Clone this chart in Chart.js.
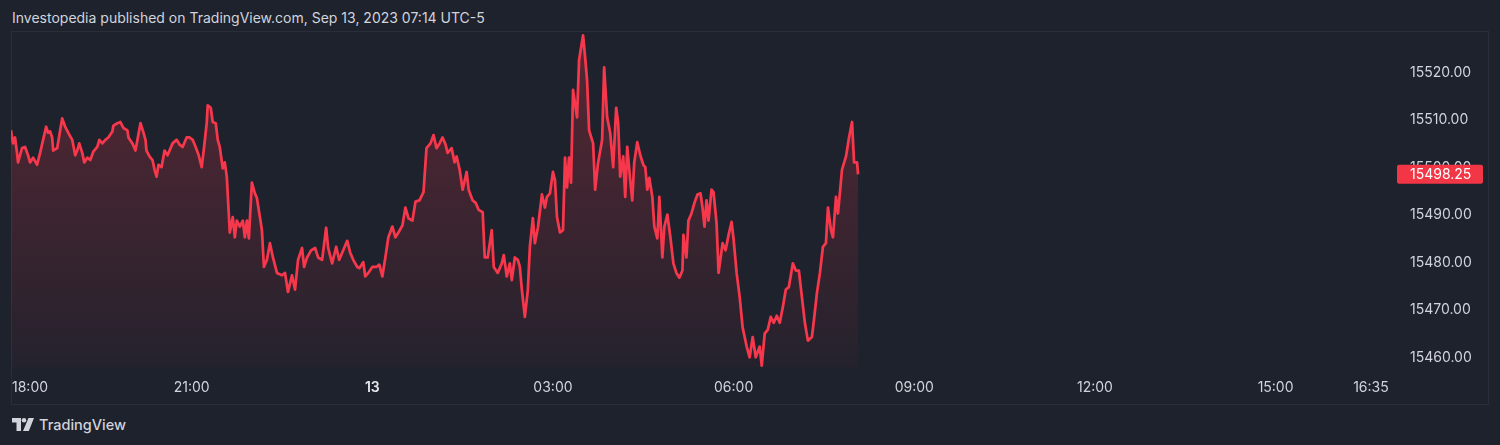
<!DOCTYPE html>
<html>
<head>
<meta charset="utf-8">
<script src="https://cdn.jsdelivr.net/npm/chart.js@4.4.0/dist/chart.umd.min.js"></script>
<style>
  html, body { margin:0; padding:0; background:#1e222d; width:1500px; height:445px; overflow:hidden; font-family: Inter, "Noto Sans", sans-serif; }
  #title { position:absolute; left:12px; top:9px; font-size:14px; line-height:18px; color:#d1d4dc; white-space:nowrap; }
  #frame { position:absolute; left:11px; top:31px; width:1478px; height:374px; box-sizing:border-box; border:1px solid #2a2e39; pointer-events:none; }
  #wrap { position:absolute; left:11px; top:31px; width:1477px; height:373px; }
  #brand { position:absolute; left:12px; top:415px; height:18px; display:flex; align-items:center; color:#d1d4dc; font-size:14.5px; font-weight:500; }
  #brand svg { margin-right:5px; }
</style>
</head>
<body>
<div id="title">Investopedia published on TradingView.com, Sep 13, 2023 07:14 UTC-5</div>
<div id="frame"></div>
<div id="wrap"><canvas id="c"></canvas></div>
<div id="brand">
  <svg width="22" height="13" viewBox="0 0 22 13"><path d="M0 0h9v13H4.5V4.5H0z" fill="#d1d4dc"/><circle cx="12" cy="2.3" r="2.3" fill="#d1d4dc"/><path d="M16.5 0H22l-5.2 13H11z" fill="#d1d4dc"/></svg>
  <span>TradingView</span>
</div>
<script>
// minutes since 18:00 (Sep 12)
const times = [
0,2,4,6,7,11,14,17,19,22,
26,29,32,35,37,39,41,42,46,49,
51,54,57,61,64,66,68,71,73,76,
79,82,86,88,91,94,97,101,102,106,
109,112,116,117,121,124,126,129,132,134,
135,138,141,143,145,147,150,153,156,161,
165,168,171,175,178,181,184,187,190,192,
195,196,199,201,204,206,208,211,213,215,
218,221,223,225,228,231,233,235,237,240,
243,245,248,250,252,255,258,261,265,270,
273,276,280,283,286,290,292,295,299,303,
306,310,314,316,320,324,327,331,335,338,
341,345,347,351,353,356,360,364,367,370,
373,376,380,383,386,390,393,396,400,403,
407,411,414,418,421,424,427,430,433,435,
439,442,444,447,450,454,456,460,463,466,
470,472,475,479,481,485,489,491,494,497,
499,502,505,507,509,512,515,517,520,522,
525,529,532,534,537,540,542,544,547,550,
552,554,556,558,560,564,566,570,572,574,
576,580,582,585,589,591,594,597,600,603,
605,607,610,612,614,617,619,621,624,627,
630,632,634,636,639,641,644,646,649,651,
654,657,660,663,666,669,670,673,675,678,
681,684,687,689,691,693,695,698,700,703,
705,709,712,715,718,720,723,726,729,733,
736,739,742,746,748,751,754,757,760,763,
766,769,772,775,779,782,785,788,791,794,
798,800,803,806,809,812,814,817,819,822,
824,828,832,835,838,840,843,844
];
const prices = [
15507.5,15504.75,15506,15502.75,15500.75,15503.75,15504,15502.25,15500.75,15501.75,
15500.25,15502.75,15505.5,15508.25,15507,15507.25,15506,15503.25,15503.75,15507.5,
15510,15508.25,15507,15505.5,15502.25,15503.25,15504.75,15502.75,15500.75,15501.75,
15501.25,15503,15504,15505.5,15504.75,15505.5,15506,15507.25,15508.5,15509,
15509.25,15508,15507.5,15506,15504.75,15503.25,15505.5,15509,15507,15505.5,
15503.25,15502,15501.25,15499.25,15497.75,15500.25,15499.75,15503.25,15502.25,15504.75,
15505.5,15504.5,15504,15506,15506,15505.5,15504,15502.25,15499.75,15503.25,
15509,15512.75,15512.25,15509.25,15509,15505.5,15504,15499.5,15500.75,15497.75,
15486,15489.25,15485,15488.5,15487.25,15488.5,15485,15488.5,15484.75,15496.5,
15494.25,15493.25,15489.25,15486.5,15478.75,15480.25,15483.75,15480.75,15477.5,15477,
15477.5,15473.5,15477,15474,15480.25,15482.75,15478.75,15480.75,15482.25,15482.75,
15480.75,15480.25,15487,15482.75,15479.5,15483,15480.25,15482.25,15484.25,15481.75,
15480.25,15478.75,15478.5,15479.75,15476.75,15477.5,15478.75,15478.75,15479.25,15476.75,
15480.75,15485,15487.25,15485,15486,15487.5,15491.25,15489,15488.5,15492.5,
15492.75,15494.5,15503.75,15504.75,15506.5,15503.75,15504.75,15506,15504.5,15502.75,
15503.75,15500.75,15502,15499.25,15495,15498.75,15495,15492.75,15492.25,15490.75,
15490.25,15480.75,15480.75,15486.5,15478.75,15477.5,15479.5,15481.25,15476.75,15479.5,
15476,15480.75,15480.25,15478.75,15474,15468.25,15474,15483,15489,15483.75,
15487,15494,15491.25,15493.5,15494.25,15498.75,15497,15489.25,15486,15486.5,
15501.75,15495.5,15501.75,15496.5,15516,15510.25,15522.25,15527.5,15523,15518,
15507.5,15504.75,15495,15500.75,15505.5,15520.75,15510.25,15507,15499.75,15512.25,
15509,15497.75,15502,15493.5,15504,15497,15492.75,15500.75,15505,15502.25,
15500.25,15499.75,15495,15497.5,15493.5,15487.25,15484.75,15493.5,15480.75,15487.25,
15489.75,15485,15479.5,15477.5,15476.5,15478,15485.5,15480.75,15488.5,15490,
15492.25,15494,15494.25,15491.25,15487.25,15492.75,15488.5,15495,15494.5,15488,
15477.5,15483.75,15482.25,15485.5,15488.25,15484.5,15477.5,15472.5,15466,15462,
15459.75,15464,15459.75,15462,15458,15464.75,15465.5,15468.25,15467,15468.5,
15467,15470.25,15474,15474.5,15479.5,15478,15478,15472.5,15467,15463.25,
15464,15467.5,15473.25,15477.5,15483,15483.75,15491.25,15486.5,15485,15493.5,
15490,15499.25,15502,15506,15509.25,15500.75,15500.75,15498.25
];
const xTickMinutes = [0, 180, 360, 540, 720, 900, 1080, 1260, 1355];
const xTickLabels = ['18:00', '21:00', '13', '03:00', '06:00', '09:00', '12:00', '15:00', '16:35'];
const priceTicks = [15460, 15470, 15480, 15490, 15500, 15510, 15520];
const lastPriceLabel = '15498.25';

const points = times.map((t, i) => ({ x: t, y: prices[i] }));

const tvPlugin = {
  id: 'tvLabels',
  afterDraw(chart) {
    const { ctx, scales: { x, y }, chartArea } = chart;
    ctx.save();
    ctx.textBaseline = 'middle';
    ctx.textAlign = 'left';
    const ty = chartArea.bottom + 21;
    xTickMinutes.forEach((m, i) => {
      const lbl = xTickLabels[i];
      const bold = lbl === '13';
      ctx.font = (bold ? '600 ' : '400 ') + '14px Inter';
      ctx.fillStyle = bold ? '#e6e8ee' : '#d1d4dc';
      const w = ctx.measureText(lbl).width;
      let left = x.getPixelForValue(m) - w / 2;
      if (left < chartArea.left + 1) left = chartArea.left + 1;
      ctx.fillText(lbl, left, ty);
    });
    // last price tag
    const py = y.getPixelForValue(prices[prices.length - 1]);
    const bx = chartArea.right + 5, bw = 86, bh = 19;
    ctx.fillStyle = '#f23645';
    ctx.beginPath();
    if (ctx.roundRect) ctx.roundRect(bx, py - bh / 2, bw, bh, 2); else ctx.rect(bx, py - bh / 2, bw, bh);
    ctx.fill();
    ctx.fillStyle = '#ffffff';
    ctx.font = '400 14px Inter';
    ctx.fillText(lastPriceLabel, chartArea.right + 18, py + 1);
    ctx.restore();
  }
};

new Chart(document.getElementById('c'), {
  type: 'line',
  data: {
    datasets: [{
      data: points,
      borderColor: '#f7374b',
      borderWidth: 2.75,
      borderJoinStyle: 'round',
      pointRadius: 0,
      tension: 0,
      fill: 'start',
      backgroundColor(ctx) {
        const ca = ctx.chart.chartArea;
        if (!ca) return 'rgba(242,54,69,0.15)';
        const g = ctx.chart.ctx.createLinearGradient(0, ca.top, 0, ca.bottom);
        g.addColorStop(0, 'rgba(242,54,69,0.28)');
        g.addColorStop(1, 'rgba(242,54,69,0.03)');
        return g;
      }
    }]
  },
  options: {
    responsive: true,
    maintainAspectRatio: false,
    animation: false,
    events: [],
    layout: { padding: 0 },
    plugins: { legend: { display: false }, tooltip: { enabled: false } },
    scales: {
      x: {
        type: 'linear',
        min: 0,
        max: 1376,
        grid: { display: false, drawTicks: false },
        border: { display: false },
        ticks: { display: false },
        afterFit(scale) { scale.height = 37; scale.paddingLeft = 0; scale.paddingRight = 0; }
      },
      y: {
        position: 'right',
        min: 15457.7,
        max: 15528.4,
        grid: { display: false, drawTicks: false },
        border: { display: false },
        afterBuildTicks(scale) { scale.ticks = priceTicks.map(v => ({ value: v })); },
        afterFit(scale) { scale.width = 96; scale.paddingTop = 0; scale.paddingBottom = 0; },
        ticks: {
          padding: 18,
          labelOffset: 1.5,
          color: '#d1d4dc',
          font: { family: 'Inter', size: 14 },
          callback: v => Number(v).toFixed(2)
        }
      }
    }
  },
  plugins: [tvPlugin]
});
</script>
</body>
</html>
